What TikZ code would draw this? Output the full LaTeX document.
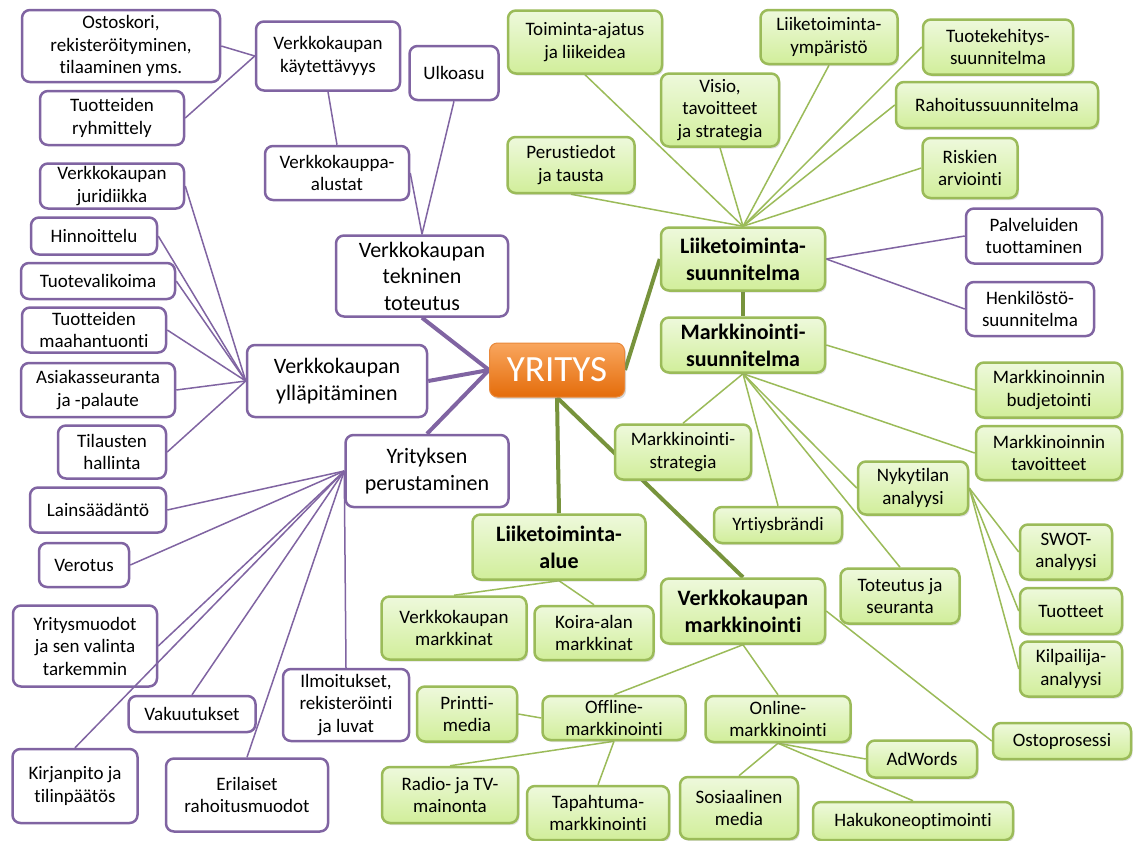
\documentclass[tikz,border=0pt]{standalone}
\usepackage{fontspec}
\setmainfont{Carlito}[Ligatures=NoCommon]
\usetikzlibrary{shadows,backgrounds}
\definecolor{pline}{HTML}{8064A2}
\definecolor{gline}{HTML}{9BBB59}
\definecolor{gdark}{HTML}{77933C}
\definecolor{gtop}{HTML}{EEF9DC}
\definecolor{gbot}{HTML}{D1EE9A}
\definecolor{otop}{HTML}{F9A65E}
\definecolor{obot}{HTML}{E46C0A}
\tikzset{x=1pt, y=-1pt, font=\fontsize{19}{22.5}\selectfont}
\tikzstyle{pbox} = [draw=pline, line width=2.5pt, fill=white, rounded corners=8pt, align=center, inner sep=2pt]
\tikzstyle{pbig} = [pbox, font=\fontsize{22}{26.5}\selectfont]
\tikzstyle{gbox} = [draw=gline, line width=2.5pt, top color=gtop, bottom color=gbot, rounded corners=8pt, align=center, inner sep=2pt, drop shadow={shadow xshift=1.5pt, shadow yshift=-2pt, opacity=0.25}]
\tikzstyle{gbold} = [gbox, font=\fontsize{22}{27}\selectfont\bfseries]
\tikzstyle{rootbox} = [draw=obot!80!white, line width=1pt, top color=otop, bottom color=obot, rounded corners=8pt, text=white, font=\fontsize{37}{40}\selectfont, drop shadow={shadow xshift=1.5pt, shadow yshift=-2pt, opacity=0.3}]
\tikzstyle{pthin} = [draw=pline, line width=1.5pt]
\tikzstyle{pthick} = [draw=pline, line width=4pt]
\tikzstyle{gthin} = [draw=gline, line width=1.5pt]
\tikzstyle{gthick} = [draw=gdark, line width=4pt]

\begin{document}
\begin{tikzpicture}
		\useasboundingbox (0,0) rectangle (1133,841);

		\node [rootbox, minimum width=135, minimum height=54] (yritys) at (557,370) {YRITYS};

		\node [pbig, minimum width=172, minimum height=81] (tekn) at (422,276) {Verkkokaupan\\tekninen\\toteutus};
		\node [pbig, minimum width=180, minimum height=72] (yllapito) at (337,381) {Verkkokaupan\\ylläpitäminen};
		\node [pbig, minimum width=163, minimum height=72] (perus) at (427,471) {Yrityksen\\perustaminen};

		\node [pbox, minimum width=198, minimum height=72] (ostos) at (121,46) {Ostoskori,\\rekisteröityminen,\\tilaaminen yms.};
		\node [pbox, minimum width=144, minimum height=54] (ryhm) at (112,118) {Tuotteiden\\ryhmittely};
		\node [pbox, minimum width=144, minimum height=69] (kaytet) at (328,56) {Verkkokaupan\\käytettävyys};
		\node [pbox, minimum width=89, minimum height=54] (ulko) at (454,73) {Ulkoasu};
		\node [pbox, minimum width=144, minimum height=54] (alustat) at (337,173) {Verkkokauppa-\\alustat};

		\node [pbox, minimum width=144, minimum height=45] (juri) at (112,186) {Verkkokaupan\\juridiikka};
		\node [pbox, minimum width=126, minimum height=37] (hinta) at (94,236) {Hinnoittelu};
		\node [pbox, minimum width=154, minimum height=36] (valikoima) at (98,281) {Tuotevalikoima};
		\node [pbox, minimum width=144, minimum height=45] (tuonti) at (94,330) {Tuotteiden\\maahantuonti};
		\node [pbox, minimum width=154, minimum height=54] (seuranta) at (98,390) {Asiakasseuranta\\ja -palaute};
		\node [pbox, minimum width=108, minimum height=53] (tilaus) at (112,452) {Tilausten\\hallinta};

		\node [pbox, minimum width=136, minimum height=45] (laki) at (98,510) {Lainsäädäntö};
		\node [pbox, minimum width=90, minimum height=44] (vero) at (84,565) {Verotus};
		\node [pbox, minimum width=144, minimum height=81] (muodot) at (85,646) {Yritysmuodot\\ja sen valinta\\tarkemmin};
		\node [pbox, minimum width=127, minimum height=36] (vakuutus) at (192,714) {Vakuutukset};
		\node [pbox, minimum width=125, minimum height=74] (kirjanpito) at (75,786) {Kirjanpito ja\\tilinpäätös};
		\node [pbox, minimum width=162, minimum height=73] (rahoitus) at (247,795) {Erilaiset\\rahoitusmuodot};
		\node [pbox, minimum width=126, minimum height=72] (ilmo) at (346,705) {Ilmoitukset,\\rekisteröinti\\ja luvat};

		\node [gbold, minimum width=164, minimum height=63] (liiksuunn) at (743,259) {Liiketoiminta-\\suunnitelma};
		\node [gbold, minimum width=164, minimum height=55] (marksuunn) at (743,345) {Markkinointi-\\suunnitelma};
		\node [gbold, minimum width=173, minimum height=65] (la) at (559,547) {Liiketoiminta-\\alue};
		\node [gbold, minimum width=164, minimum height=65] (vkm) at (743,611) {Verkkokaupan\\markkinointi};

		\node [gbox, minimum width=154, minimum height=63] (toiminta) at (585,42) {Toiminta-ajatus\\ja liikeidea};
		\node [gbox, minimum width=137, minimum height=54] (ymparisto) at (829,37) {Liiketoiminta-\\ympäristö};
		\node [gbox, minimum width=150, minimum height=55] (tuotekeh) at (998,47) {Tuotekehitys-\\suunnitelma};
		\node [gbox, minimum width=118, minimum height=73] (visio) at (720,110) {Visio,\\tavoitteet\\ja strategia};
		\node [gbox, minimum width=202, minimum height=46] (rahsuunn) at (997,105) {Rahoitussuunnitelma};
		\node [gbox, minimum width=127, minimum height=56] (perustiedot) at (571,165) {Perustiedot\\ja tausta};
		\node [gbox, minimum width=95, minimum height=60] (riskit) at (970,168) {Riskien\\arviointi};
		\node [pbox, minimum width=136, minimum height=55] (palvelu) at (1034,236) {Palveluiden\\tuottaminen};
		\node [pbox, minimum width=128, minimum height=54] (henkilo) at (1030,309) {Henkilöstö-\\suunnitelma};

		\node [gbox, minimum width=146, minimum height=55] (budj) at (1049,390) {Markkinoinnin\\budjetointi};
		\node [gbox, minimum width=146, minimum height=54] (tavoit) at (1049,453) {Markkinoinnin\\tavoitteet};
		\node [gbox, minimum width=136, minimum height=55] (strat) at (683,452) {Markkinointi-\\strategia};
		\node [gbox, minimum width=110, minimum height=53] (nyky) at (913,488) {Nykytilan\\analyysi};
		\node [gbox, minimum width=128, minimum height=36] (brandi) at (778,525) {Yrtiysbrändi};
		\node [gbox, minimum width=119, minimum height=55] (toteutus) at (900,596) {Toteutus ja\\seuranta};
		\node [gbox, minimum width=92, minimum height=55] (swot) at (1066,552) {SWOT-\\analyysi};
		\node [gbox, minimum width=102, minimum height=46] (tuotteet) at (1071,611) {Tuotteet};
		\node [gbox, minimum width=102, minimum height=55] (kilpa) at (1071,669) {Kilpailija-\\analyysi};

		\node [gbox, minimum width=145, minimum height=63] (vkmarkkinat) at (454,628) {Verkkokaupan\\markkinat};
		\node [gbox, minimum width=119, minimum height=54] (koira) at (594,633) {Koira-alan\\markkinat};
		\node [gbox, minimum width=143, minimum height=44] (offline) at (614,718) {Offline-\\markkinointi};
		\node [gbox, minimum width=145, minimum height=46] (online) at (778,719) {Online-\\markkinointi};
		\node [gbox, minimum width=138, minimum height=36] (osto) at (1062,741) {Ostoprosessi};
		\node [gbox, minimum width=100, minimum height=55] (printti) at (467,714) {Printti-\\media};
		\node [gbox, minimum width=136, minimum height=56] (radio) at (450,795) {Radio- ja TV-\\mainonta};
		\node [gbox, minimum width=142, minimum height=54] (tapahtuma) at (598,813) {Tapahtuma-\\markkinointi};
		\node [gbox, minimum width=110, minimum height=37] (adwords) at (922,759) {AdWords};
		\node [gbox, minimum width=118, minimum height=62] (sosiaali) at (739,808) {Sosiaalinen\\media};
		\node [gbox, minimum width=200, minimum height=38] (hakukone) at (913,821) {Hakukoneoptimointi};

		\begin{scope}[on background layer]
		\fill [white] (0,0) rectangle (1133,841);

		\draw [pthick] (yritys.west) -- (tekn.south);
		\draw [pthick] (yritys.west) -- (yllapito.east);
		\draw [pthick] (yritys.west) -- (perus.north);
		\draw [gthick] (yritys.east) -- (liiksuunn.west);
		\draw [gthick] (liiksuunn.south) -- (marksuunn.north);
		\draw [gthick] (yritys.south) -- (la.north);
		\draw [gthick] (yritys.south) -- (vkm.north);

		\draw [pthin] (kaytet.west) -- (ostos.east);
		\draw [pthin] (kaytet.west) -- (ryhm.east);
		\draw [pthin] (kaytet.south) -- (alustat.north);
		\draw [pthin] (tekn.north) -- (ulko.south);
		\draw [pthin] (tekn.north) -- (alustat.east);

		\draw [pthin] (yllapito.west) -- (juri.east);
		\draw [pthin] (yllapito.west) -- (hinta.east);
		\draw [pthin] (yllapito.west) -- (valikoima.east);
		\draw [pthin] (yllapito.west) -- (tuonti.east);
		\draw [pthin] (yllapito.west) -- (seuranta.east);
		\draw [pthin] (yllapito.west) -- (tilaus.east);

		\draw [pthin] (perus.west) -- (laki.east);
		\draw [pthin] (perus.west) -- (vero.east);
		\draw [pthin] (perus.west) -- (muodot.east);
		\draw [pthin] (perus.west) -- (vakuutus.north);
		\draw [pthin] (perus.west) -- (rahoitus.north);
		\draw [pthin] (perus.west) -- (ilmo.north);

		\draw [gthin] (liiksuunn.north) -- (toiminta.south);
		\draw [gthin] (liiksuunn.north) -- (perustiedot.south);
		\draw [gthin] (liiksuunn.north) -- (visio.south);
		\draw [gthin] (liiksuunn.north) -- (ymparisto.south);
		\draw [gthin] (liiksuunn.north) -- (tuotekeh.west);
		\draw [gthin] (liiksuunn.north) -- (rahsuunn.west);
		\draw [gthin] (liiksuunn.north) -- (riskit.west);
		\draw [pthin] (liiksuunn.east) -- (palvelu.west);
		\draw [pthin] (liiksuunn.east) -- (henkilo.west);

		\draw [gthin] (marksuunn.east) -- (budj.west);
		\draw [gthin] (marksuunn.south) -- (tavoit.west);
		\draw [gthin] (marksuunn.south) -- (strat.north);
		\draw [gthin] (marksuunn.south) -- (brandi.north);
		\draw [gthin] (marksuunn.south) -- (toteutus.north);
		\draw [gthin] (marksuunn.south) -- (nyky.west);
		\draw [gthin] (nyky.east) -- (swot.west);
		\draw [gthin] (nyky.east) -- (tuotteet.west);
		\draw [gthin] (nyky.east) -- (kilpa.west);

		\draw [gthin] (la.south) -- (vkmarkkinat.north);
		\draw [gthin] (la.south) -- (koira.north);
		\draw [gthin] (vkm.south) -- (offline.north);
		\draw [gthin] (vkm.south) -- (online.north);
		\draw [gthin] (vkm.east) -- (osto.west);
		\draw [gthin] (offline.west) -- (printti.east);
		\draw [gthin] (offline.south) -- (radio.north);
		\draw [gthin] (offline.south) -- (tapahtuma.north);
		\draw [gthin] (online.south) -- (sosiaali.north);
		\draw [gthin] (online.south) -- (adwords.west);
		\draw [gthin] (online.south) -- (hakukone.north);
		\end{scope}

		\draw [pthin] (perus.west) -- (kirjanpito.north);
	\end{tikzpicture}
\end{document}
